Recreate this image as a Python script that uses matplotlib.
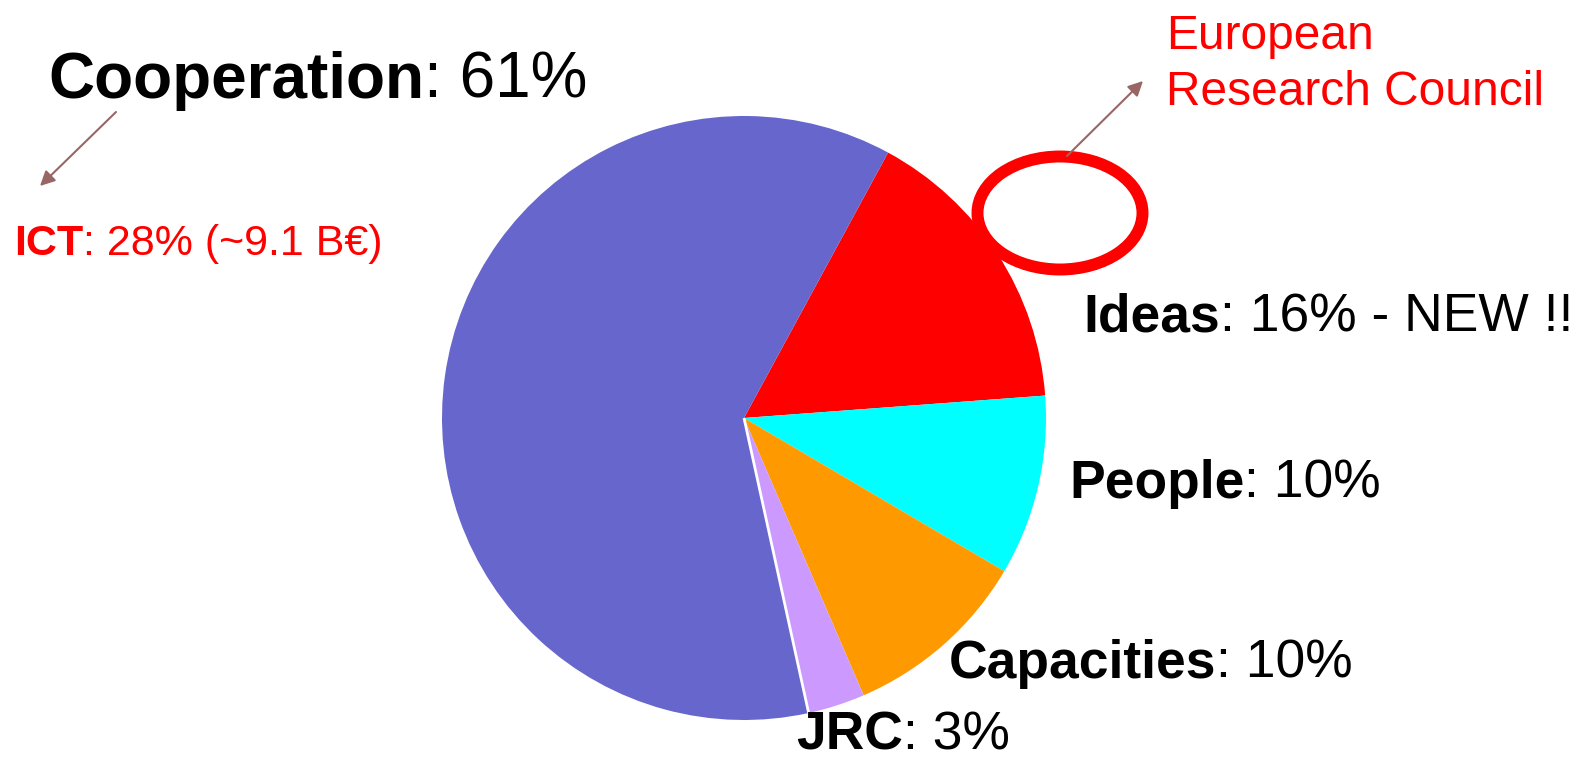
import matplotlib
matplotlib.use("Agg")
import matplotlib.pyplot as plt
from matplotlib.patches import Ellipse
import numpy as np

# ---- data (shares; labels as printed) ----
categories = ["Ideas", "People", "Capacities", "JRC", "Cooperation"]
shares = [15.9, 9.65, 10.05, 3.05, 61.35]
colors = ["#FF0000", "#00FFFF", "#FF9900", "#CC99FF", "#6666CC"]
label_suffix = [": 16% - NEW !!", ": 10%", ": 10%", ": 3%", ": 61%"]
ict_bold = "ICT"
ict_rest = ": 28% (~9.1 B\u20ac)"
erc_lines = ["European", "Research Council"]

W, H = 1579, 757
fig = plt.figure(figsize=(W / 100, H / 100), dpi=100)
ax = fig.add_axes([0, 0, 1, 1])

def Y(y):
    return H - y

FONT = "Liberation Sans"
cx, cy, R = 744, Y(418), 302
start = 61.5
ax.pie(shares, colors=colors, startangle=start, counterclock=False,
       center=(cx, cy), radius=R, frame=True, wedgeprops=dict(linewidth=0))
ax.set_xlim(0, W)
ax.set_ylim(0, H)
ax.axis("off")

# thin white separator between JRC and Cooperation
ang = np.deg2rad(start - 360 * sum(shares[:4]) / sum(shares))
ax.plot([cx, cx + R * np.cos(ang)], [cy, cy + R * np.sin(ang)],
        color="white", lw=2, solid_capstyle="butt")

renderer = fig.canvas.get_renderer()

def mixed(x, y, bold, rest, size, color="black"):
    t = ax.text(x, Y(y), bold, fontsize=size, fontweight="bold", family=FONT,
                color=color, ha="left", va="baseline")
    bb = t.get_window_extent(renderer=renderer)
    ax.text(x + bb.width, Y(y), rest, fontsize=size, family=FONT,
            color=color, ha="left", va="baseline")

# labels: (x, baseline y, size)
positions = {
    "Ideas": (1083, 331, 38.4),
    "People": (1069, 498, 38.4),
    "Capacities": (949, 678, 38.4),
    "JRC": (796, 749, 38.4),
    "Cooperation": (48, 98, 46),
}
for cat, suf in zip(categories, label_suffix):
    x, y, s = positions[cat]
    mixed(x, y, cat, suf, s)

mixed(14, 255, ict_bold, ict_rest, 31, color="#FF0000")

for i, line in enumerate(erc_lines):
    ax.text(1166, Y(49 + 56 * i), line, fontsize=34.5, family=FONT,
            color="#FF0000", ha="left", va="baseline")

# red ellipse
ax.add_patch(Ellipse((1060, Y(213)), 165, 113, fill=False,
                     edgecolor="#FF0000", lw=8.6))

arrow_col = "#996666"
ax.annotate("", xy=(40, Y(186)), xytext=(116, Y(112)),
            arrowprops=dict(arrowstyle="-|>", color=arrow_col, lw=1.5,
                            mutation_scale=22, shrinkA=0, shrinkB=0))
ax.annotate("", xy=(1143, Y(81)), xytext=(1067, Y(156)),
            arrowprops=dict(arrowstyle="-|>", color=arrow_col, lw=1.5,
                            mutation_scale=22, shrinkA=0, shrinkB=0))

fig.savefig("out.png", dpi=100, facecolor="white")
